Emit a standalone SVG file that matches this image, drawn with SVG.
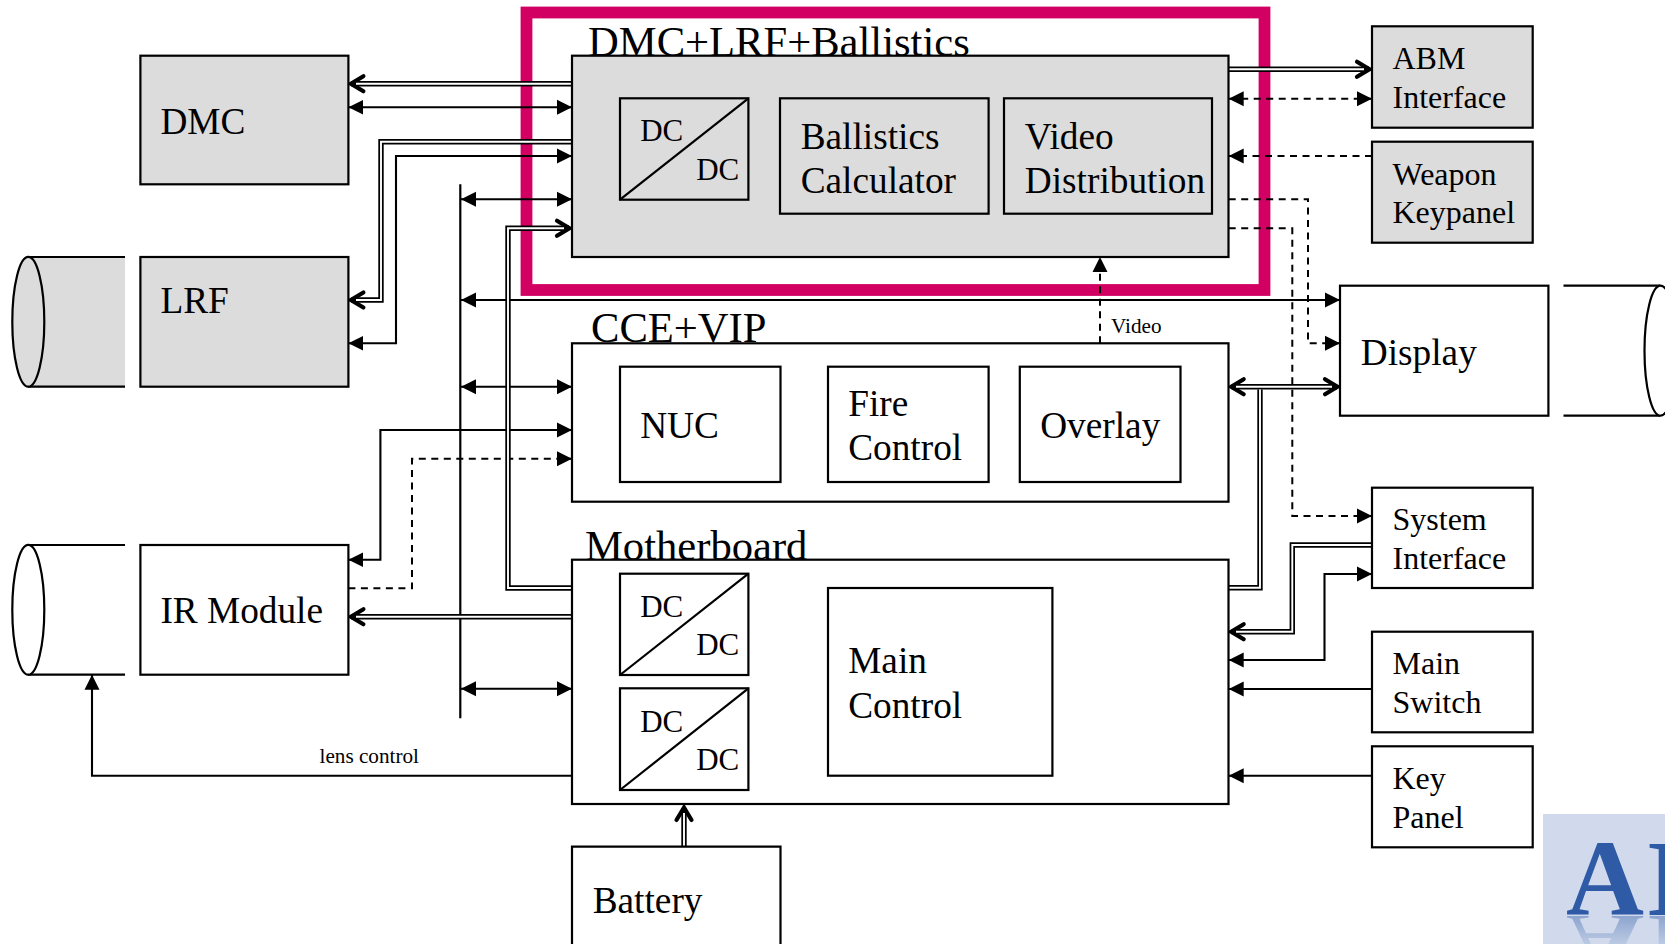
<svg xmlns="http://www.w3.org/2000/svg" xmlns:xlink="http://www.w3.org/1999/xlink" width="1665" height="944" viewBox="0 0 1665 944">
<style>
text{font-family:"Liberation Serif","Times New Roman",serif;fill:#000}
.t42{font-size:42.6px}.t37{font-size:37.3px}.t32{font-size:32px}.t31{font-size:31px}.t20{font-size:21.2px}
.g{fill:#dcdcdc;stroke:#000;stroke-width:2.2}
.w{fill:#fff;stroke:#000;stroke-width:2.2}
.l{fill:none;stroke:#000;stroke-width:2.2}
.s{fill:none;stroke:#000;stroke-width:2.1;marker-end:url(#tri)}
.b{marker-start:url(#tri)}
.d{fill:none;stroke:#000;stroke-width:2;stroke-dasharray:7 5.5;marker-end:url(#tri)}
.o{fill:none;stroke:#000;stroke-width:5.4;marker-end:url(#chev)}
.ob{marker-start:url(#chev)}
.n{marker-end:none}
.i{fill:none;stroke:#fff;stroke-width:1.9}
</style>
<defs>
<marker id="tri" markerUnits="userSpaceOnUse" markerWidth="16" markerHeight="16" viewBox="-15 -8 16 16" refX="0" refY="0" orient="auto-start-reverse"><path d="M-15,-7.5L0,0L-15,7.5Z" fill="#000"/></marker>
<marker id="chev" markerUnits="userSpaceOnUse" markerWidth="24" markerHeight="24" viewBox="-16 -12 24 24" refX="0" refY="0" orient="auto-start-reverse"><path d="M-12,-7.5L.5,0L-12,7.5" fill="none" stroke="#000" stroke-width="4.2" stroke-linecap="round" stroke-linejoin="miter"/></marker>
<clipPath id="logoClip"><rect x="1543" y="814" width="122" height="130"/></clipPath>
<linearGradient id="fade" x1="0" y1="0" x2="0" y2="1"><stop offset="0" stop-color="#fff" stop-opacity=".42"/><stop offset="1" stop-color="#fff" stop-opacity=".12"/></linearGradient>
<mask id="fadeMask" maskUnits="userSpaceOnUse" x="1543" y="916" width="122" height="28"><rect x="1543" y="916" width="122" height="28" fill="url(#fade)"/></mask>
</defs>

<rect id="highlight" x="526.5" y="12.5" width="738" height="277.5" fill="none" stroke="#d20062" stroke-width="11.8"/>

<g id="connectors">
<path class="l" d="M460.3,184.3V718.3"/>
<path class="s b" d="M348.4,107.3H572"/>
<path class="s b" d="M572,156H396V343.3H348.4"/>
<path class="s b" d="M461,199.3H572"/>
<path class="s b" d="M461,300H1340"/>
<path class="s b" d="M461,386.7H572"/>
<path class="s b" d="M461,688.7H572"/>
<path class="s b" d="M572,430H380.4V559.7H348.4"/>
<path class="s" d="M572,775.7H92V674.7"/>
<path class="s" d="M1372,689H1228.7"/>
<path class="s" d="M1372,775.7H1228.7"/>
<path class="s b" d="M1372,574H1324.5V660H1228.7"/>
<path class="d" d="M348.4,588.3H412V458.7H572"/>
<path class="d b" d="M1228.7,98.7H1372"/>
<path class="d" d="M1372,156H1228.7"/>
<path class="d" d="M1228.7,199.3H1308V343.3H1340"/>
<path class="d" d="M1228.7,228.3H1292.3V516H1372"/>
<path class="d" d="M1100,343.3V257"/>
<path class="o" d="M572,83.7H351.4"/>
<path class="o" d="M572,141.7H381V300H351.4"/>
<path class="o" d="M572,588H508V228.3H569"/>
<path class="o" d="M572,616.7H351.4"/>
<path class="o" d="M1228.7,69.3H1369"/>
<path class="o ob" d="M1231.7,386.7H1337"/>
<path class="o n" d="M1260,389.5V587.7H1228.7"/>
<path class="o" d="M1372,545H1292.3V631.7H1231.7"/>
<path class="o" d="M684,846.7V808"/>
<path class="i" d="M572,83.7H356"/>
<path class="i" d="M572,141.7H381V300H356"/>
<path class="i" d="M572,588H508V228.3H564"/>
<path class="i" d="M572,616.7H356"/>
<path class="i" d="M1228.7,69.3H1364"/>
<path class="i" d="M1236,386.7H1332"/>
<path class="i" d="M1260,389.5V587.7H1228.7"/>
<path class="i" d="M1372,545H1292.3V631.7H1236"/>
<path class="i" d="M684,846.7V813"/>
</g>

<g id="dmc"><rect class="g" x="140.4" y="55.7" width="208" height="128.6"/><text class="t37" x="160.4" y="134.3">DMC</text></g>
<g id="lrf-lens"><path d="M28,257H125V386.7H28Z" fill="#dcdcdc"/><path class="l" d="M28,257H125M28,386.7H125"/><ellipse class="g" cx="28.3" cy="321.8" rx="16" ry="64.9"/></g>
<g id="lrf"><rect class="g" x="140.4" y="257" width="208" height="129.7"/><text class="t37" x="160.4" y="312.7">LRF</text></g>
<g id="ir-lens"><path class="l" d="M28,545H125M28,674.7H125"/><ellipse class="w" cx="28.3" cy="609.8" rx="16" ry="64.9"/></g>
<g id="ir-module"><rect class="w" x="140.4" y="545" width="208" height="129.7"/><text class="t37" x="160.4" y="622.7">IR Module</text></g>

<g id="dmc-lrf-ballistics">
<text class="t42" x="588" y="56">DMC+LRF+Ballistics</text>
<rect class="g" x="572" y="55.7" width="656.5" height="201.3"/>
<g id="dc1"><rect class="g" x="620" y="98.3" width="128.4" height="101.4"/><path class="l" d="M620,199.7L748.4,98.3"/><text class="t31" x="640.2" y="141">DC</text><text class="t31" x="696.2" y="180">DC</text></g>
<g id="ballistics-calculator"><rect class="g" x="780" y="98.3" width="208.6" height="115.4"/><text class="t37" x="800.7" y="148.7">Ballistics</text><text class="t37" x="800.7" y="193">Calculator</text></g>
<g id="video-distribution"><rect class="g" x="1004" y="98.3" width="208" height="115.4"/><text class="t37" x="1024.8" y="148.7">Video</text><text class="t37" x="1024.8" y="193">Distribution</text></g>
</g>

<text id="video-label" class="t20" x="1111" y="333">Video</text>
<text id="lens-label" class="t20" x="319.5" y="763">lens control</text>

<g id="cce-vip">
<text class="t42" x="591" y="341.7">CCE+VIP</text>
<rect class="w" x="572" y="343.3" width="656.5" height="158.4"/>
<g id="nuc"><rect class="w" x="620" y="366.7" width="160.5" height="115.3"/><text class="t37" x="640.2" y="438.3">NUC</text></g>
<g id="fire-control"><rect class="w" x="828" y="366.7" width="160.6" height="115.3"/><text class="t37" x="848.2" y="416.3">Fire</text><text class="t37" x="848.2" y="460.3">Control</text></g>
<g id="overlay"><rect class="w" x="1019.8" y="366.7" width="160.7" height="115.3"/><text class="t37" x="1040.2" y="437.7">Overlay</text></g>
</g>

<g id="motherboard">
<text class="t42" x="585" y="560">Motherboard</text>
<rect class="w" x="572" y="559.7" width="656.5" height="244.3"/>
<g id="dc2"><rect class="w" x="620" y="573.7" width="128.4" height="101.3"/><path class="l" d="M620,675L748.4,573.7"/><text class="t31" x="640.2" y="616.7">DC</text><text class="t31" x="696.2" y="655">DC</text></g>
<g id="dc3"><rect class="w" x="620" y="688.3" width="128.4" height="101.7"/><path class="l" d="M620,790L748.4,688.3"/><text class="t31" x="640.2" y="731.7">DC</text><text class="t31" x="696.2" y="770">DC</text></g>
<g id="main-control"><rect class="w" x="828" y="588" width="224.4" height="187.7"/><text class="t37" x="848.2" y="673.3">Main</text><text class="t37" x="848.2" y="718.3">Control</text></g>
</g>

<g id="battery"><path class="w" d="M572,950V846.7H780.5V950"/><text class="t37" x="592.7" y="912.5">Battery</text></g>

<g id="abm-interface"><rect class="g" x="1372" y="26.3" width="160.7" height="101.4"/><text class="t32" x="1392.5" y="69">ABM</text><text class="t32" x="1392.5" y="108">Interface</text></g>
<g id="weapon-keypanel"><rect class="g" x="1372" y="141.7" width="160.7" height="101"/><text class="t32" x="1392.5" y="185">Weapon</text><text class="t32" x="1392.5" y="222.7">Keypanel</text></g>
<g id="display"><rect class="w" x="1340" y="285.7" width="208.4" height="130"/><text class="t37" x="1360.8" y="365">Display</text></g>
<g id="display-lens"><path class="l" d="M1563.5,285.7H1660M1563.5,415.7H1660"/><ellipse class="w" cx="1660.5" cy="350.7" rx="16" ry="65"/></g>
<g id="system-interface"><rect class="w" x="1372" y="487.7" width="160.7" height="100.3"/><text class="t32" x="1392.5" y="530">System</text><text class="t32" x="1392.5" y="568.7">Interface</text></g>
<g id="main-switch"><rect class="w" x="1372" y="631.7" width="160.7" height="100.6"/><text class="t32" x="1392.5" y="674">Main</text><text class="t32" x="1392.5" y="713.3">Switch</text></g>
<g id="key-panel"><rect class="w" x="1372" y="746.3" width="160.7" height="101"/><text class="t32" x="1392.5" y="789.3">Key</text><text class="t32" x="1392.5" y="827.7">Panel</text></g>

<g id="logo" clip-path="url(#logoClip)">
<rect x="1543" y="814" width="122" height="130" fill="#d0daec"/>
<text id="logoText" x="1566" y="915" font-size="108" font-weight="700" style="fill:#2f5aa6;letter-spacing:2px">AI</text>
<g mask="url(#fadeMask)"><use xlink:href="#logoText" href="#logoText" transform="matrix(1 0 0 -.8 0 1647)"/></g>
</g>
</svg>
